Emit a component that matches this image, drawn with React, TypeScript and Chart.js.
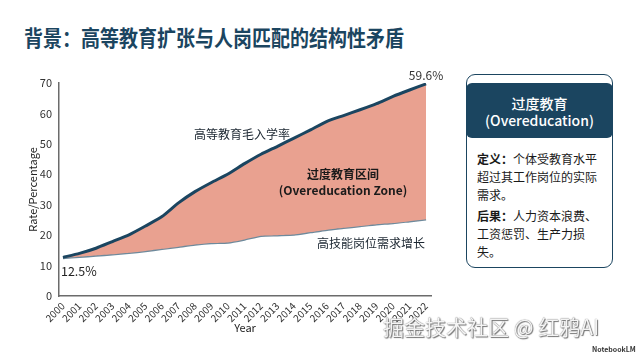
import React, { useEffect, useRef } from "react";
import { Chart, registerables } from "chart.js";

Chart.register(...registerables);

const years = [2000, 2001, 2002, 2003, 2004, 2005, 2006, 2007, 2008, 2009, 2010, 2011, 2012, 2013, 2014, 2015, 2016, 2017, 2018, 2019, 2020, 2021, 2022];
const enrollmentRate = [12.7, 14.0, 15.7, 17.9, 20.1, 23.0, 26.1, 30.6, 34.3, 37.3, 40.1, 43.5, 46.6, 49.2, 51.9, 54.6, 57.4, 59.3, 61.2, 63.2, 65.6, 67.7, 69.7];
const highSkillDemand = [12.5, 12.9, 13.3, 13.7, 14.2, 14.8, 15.5, 16.2, 16.9, 17.4, 17.6, 18.6, 19.8, 20.0, 20.2, 21.0, 21.8, 22.4, 23.0, 23.6, 24.0, 24.6, 25.2];
const yTicks = [0, 10, 20, 30, 40, 50, 60, 70];
const startLabel = "12.5%";
const endLabel = "59.6%";

const FONT = '"Noto Sans CJK SC", "Noto Sans", sans-serif';
const NAVY = "#1b4560";

const annotationPlugin = {
  id: "annotations",
  afterDatasetsDraw(chart: any) {
    const { ctx, scales } = chart;
    const x = scales.x;
    const y = scales.y;
    ctx.save();
    ctx.textBaseline = "middle";
    const txt = (s: string, px: number, py: number, align: CanvasTextAlign, weight: string, size: number, color: string) => {
      ctx.font = `${weight} ${size}px ${FONT}`;
      ctx.textAlign = align;
      ctx.fillStyle = color;
      ctx.fillText(s, px, py);
    };
    const fx = x.getPixelForValue(years[0]);
    const fy = y.getPixelForValue(enrollmentRate[0]);
    txt(startLabel, fx - 2, fy + 14, "left", "400", 12.5, "#222");
    const lx = x.getPixelForValue(years[years.length - 1]);
    const ly = y.getPixelForValue(enrollmentRate[enrollmentRate.length - 1]);
    txt(endLabel, lx, ly - 8, "center", "400", 12, "#333");
    txt("高等教育毛入学率", x.getPixelForValue(2010.85), y.getPixelForValue(53.2), "center", "400", 12, "#1a2530");
    txt("过度教育区间", x.getPixelForValue(2016.97), y.getPixelForValue(39.8), "center", "700", 12, "#1a1a1a");
    txt("(Overeducation Zone)", x.getPixelForValue(2016.97), y.getPixelForValue(34.8), "center", "700", 12, "#1a1a1a");
    txt("高技能岗位需求增长", x.getPixelForValue(2018.67), y.getPixelForValue(17.4), "center", "400", 12, "#1a2530");
    ctx.restore();
  },
};

function ChartCanvas() {
  const ref = useRef<HTMLCanvasElement | null>(null);
  useEffect(() => {
    if (!ref.current) return;
    const chart = new Chart(ref.current, {
      type: "line",
      data: {
        datasets: [
          {
            label: "高等教育毛入学率",
            data: years.map((yr, i) => ({ x: yr, y: enrollmentRate[i] })),
            borderColor: NAVY,
            borderWidth: 3,
            backgroundColor: "#e9a190",
            fill: "+1",
            pointRadius: 0,
            tension: 0.2,
          },
          {
            label: "高技能岗位需求增长",
            data: years.map((yr, i) => ({ x: yr, y: highSkillDemand[i] })),
            borderColor: "#6e8a9c",
            borderWidth: 2.5,
            fill: false,
            pointRadius: 0,
            tension: 0.2,
          },
        ],
      },
      options: {
        animation: false,
        responsive: false,
        layout: { padding: { left: 26, top: 83, right: 19, bottom: 19 } },
        plugins: { legend: { display: false }, tooltip: { enabled: false } },
        scales: {
          x: {
            type: "linear",
            min: 1999.76,
            max: 2022.3,
            afterBuildTicks: (s: any) => {
              s.ticks = years.map((v) => ({ value: v }));
            },
            afterFit: (s: any) => {
              s.height = 42;
            },
            grid: { display: false, drawTicks: false },
            border: { display: true, color: "#6b6b6b", width: 1.5 },
            ticks: {
              autoSkip: false,
              minRotation: 45,
              maxRotation: 45,
              padding: 4,
              color: "#333",
              font: { family: FONT, size: 10 },
              callback: (v: any) => String(v),
            },
            title: { display: true, text: "Year", color: "#222", font: { family: FONT, size: 11 } },
          },
          y: {
            min: 0,
            max: 70,
            afterBuildTicks: (s: any) => {
              s.ticks = yTicks.map((v) => ({ value: v }));
            },
            afterFit: (s: any) => {
              s.width = 33;
            },
            grid: { display: false, drawTicks: false },
            border: { display: true, color: "#6b6b6b", width: 1.5 },
            ticks: { padding: 7, color: "#333", font: { family: FONT, size: 11 } },
            title: { display: true, text: "Rate/Percentage", color: "#222", padding: 0, font: { family: FONT, size: 11 } },
          },
        },
      },
      plugins: [annotationPlugin],
    });
    return () => chart.destroy();
  }, []);
  return <canvas ref={ref} width={450} height={357} style={{ position: "absolute", left: 0, top: 0, width: 450, height: 357 }} />;
}

export default function App() {
  const bodyLine: React.CSSProperties = { position: "absolute", left: 477, fontSize: 12, lineHeight: "18px", color: "#1a1a1a", whiteSpace: "nowrap" };
  return (
    <div style={{ position: "fixed", left: 0, top: 0, width: 640, height: 357, background: "#fff", fontFamily: FONT, overflow: "hidden" }}>
      <div style={{ position: "absolute", left: 24, top: 25, fontSize: 19, lineHeight: "24px", fontWeight: 700, color: NAVY, whiteSpace: "nowrap", transform: "scaleY(1.12)", transformOrigin: "left center" }}>
        背景：高等教育扩张与人岗匹配的结构性矛盾
      </div>
      <ChartCanvas />
      <div style={{ position: "absolute", left: 466, top: 74, width: 147, height: 194, border: `1.5px solid ${NAVY}`, borderRadius: 9, boxSizing: "border-box" }} />
      <div style={{ position: "absolute", left: 466, top: 83, width: 147, height: 55, background: NAVY, borderRadius: 6, color: "#fff", textAlign: "center", fontSize: 14, fontWeight: 500 }}>
        <div style={{ position: "absolute", left: 0, right: 0, top: 11, lineHeight: "18px" }}>过度教育</div>
        <div style={{ position: "absolute", left: 0, right: 0, top: 28, lineHeight: "18px" }}>(Overeducation)</div>
      </div>
      <div style={{ ...bodyLine, top: 150 }}><b>定义：</b>个体受教育水平</div>
      <div style={{ ...bodyLine, top: 168 }}>超过其工作岗位的实际</div>
      <div style={{ ...bodyLine, top: 186 }}>需求。</div>
      <div style={{ ...bodyLine, top: 207 }}><b>后果：</b>人力资本浪费、</div>
      <div style={{ ...bodyLine, top: 225 }}>工资惩罚、生产力损</div>
      <div style={{ ...bodyLine, top: 243 }}>失。</div>
      <div style={{ position: "absolute", left: 383, top: 313, fontSize: 21, lineHeight: "26px", color: "#f4f4f4", whiteSpace: "nowrap", textShadow: "0 0 1px #555, 1px 1px 1px #777" }}>
        掘金技术社区 @ 红鸦AI
      </div>
      <div style={{ position: "absolute", left: 592, top: 345, fontSize: 7, lineHeight: "9px", fontWeight: 700, color: "#333", whiteSpace: "nowrap" }}>
        NotebookLM
      </div>
    </div>
  );
}
